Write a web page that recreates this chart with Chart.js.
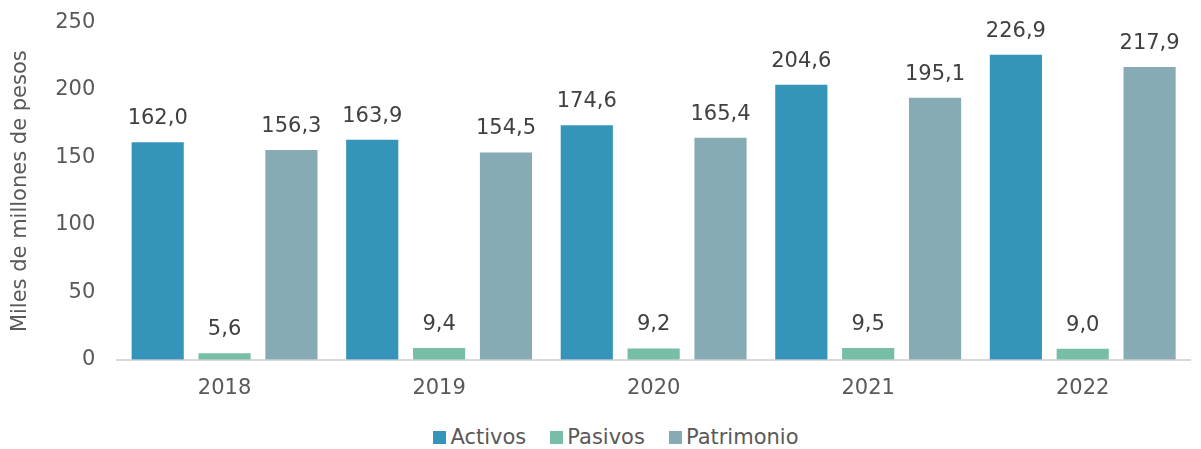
<!DOCTYPE html>
<html>
<head>
<meta charset="utf-8">
<script src="https://cdn.jsdelivr.net/npm/chart.js@4"></script>
<style>
  body { margin: 0; background: #fff; font-family: "DejaVu Sans", sans-serif; }
  #page { position: relative; width: 1201px; height: 449px; overflow: hidden; }
  #wrap { position: absolute; left: 0; top: -12px; width: 1201px; height: 429px; }
  #legend { position: absolute; left: 31px; top: 424px; width: 1170px; display: flex; justify-content: center; color: #595959; font-size: 21px; line-height: 26px; }
  #legend span.item { display: inline-flex; align-items: center; margin: 0 12px; }
  #legend span.box { display: inline-block; width: 13px; height: 13px; margin-right: 4px; }
</style>
</head>
<body>
<div id="page">
  <div id="wrap"><canvas id="chart"></canvas></div>
  <div id="legend"></div>
</div>
<script>
const years = ['2018', '2019', '2020', '2021', '2022'];
const activos = [162.0, 163.9, 174.6, 204.6, 226.9];
const pasivos = [5.6, 9.4, 9.2, 9.5, 9.0];
const patrimonio = [156.3, 154.5, 165.4, 195.1, 217.9];
const yTicks = [0, 50, 100, 150, 200, 250];
const seriesNames = ['Activos', 'Pasivos', 'Patrimonio'];
const seriesColors = ['#3594BA', '#76BEA5', '#86ABB5'];

// value labels above each bar, comma as decimal mark
const barLabels = {
  id: 'barLabels',
  afterDatasetsDraw(chart) {
    const ctx = chart.ctx;
    ctx.save();
    ctx.font = '21px "DejaVu Sans"';
    ctx.fillStyle = '#404040';
    ctx.textAlign = 'center';
    ctx.textBaseline = 'bottom';
    chart.data.datasets.forEach((ds, i) => {
      chart.getDatasetMeta(i).data.forEach((bar, j) => {
        ctx.fillText(ds.data[j].toFixed(1).replace('.', ','), bar.x, bar.y - 12);
      });
    });
    ctx.restore();
  }
};

const chart = new Chart(document.getElementById('chart'), {
  type: 'bar',
  data: {
    labels: years,
    datasets: [
      { label: seriesNames[0], data: activos, backgroundColor: seriesColors[0] },
      { label: seriesNames[1], data: pasivos, backgroundColor: seriesColors[1] },
      { label: seriesNames[2], data: patrimonio, backgroundColor: seriesColors[2] }
    ]
  },
  options: {
    responsive: true,
    maintainAspectRatio: false,
    animation: false,
    layout: { padding: { top: 6, right: 11, left: 8, bottom: 0 } },
    datasets: {
      bar: {
        categoryPercentage: 0.935,
        barPercentage: 0.81,
        borderWidth: 1,
        borderColor: 'rgba(255,255,255,0.5)'
      }
    },
    scales: {
      x: {
        grid: { display: false, drawTicks: false },
        border: { color: '#D9D9D9', width: 2 },
        ticks: { color: '#595959', font: { family: 'DejaVu Sans', size: 21 }, padding: 16 }
      },
      y: {
        min: 0,
        max: 250,
        afterBuildTicks(scale) { scale.ticks = yTicks.map(v => ({ value: v })); },
        grid: { display: false, drawTicks: false },
        border: { display: false },
        ticks: { color: '#595959', font: { family: 'DejaVu Sans', size: 21 }, padding: 22 },
        title: {
          display: true,
          text: 'Miles de millones de pesos',
          color: '#595959',
          font: { family: 'DejaVu Sans', size: 21 },
          padding: { top: 0, bottom: 0 }
        }
      }
    },
    plugins: {
      legend: { display: false },
      tooltip: { enabled: false }
    }
  },
  plugins: [barLabels]
});

// legend under the chart, built from the datasets
const legendEl = document.getElementById('legend');
chart.data.datasets.forEach(ds => {
  const item = document.createElement('span');
  item.className = 'item';
  const box = document.createElement('span');
  box.className = 'box';
  box.style.background = ds.backgroundColor;
  item.appendChild(box);
  item.appendChild(document.createTextNode(ds.label));
  legendEl.appendChild(item);
});
</script>
</body>
</html>
